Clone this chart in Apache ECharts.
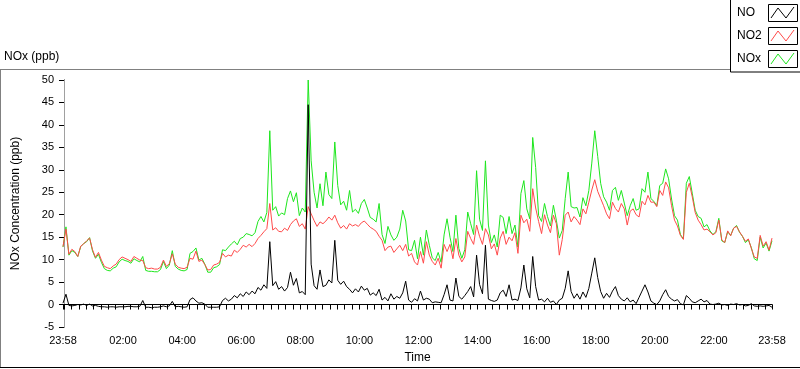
<!DOCTYPE html>
<html><head><meta charset="utf-8">
<script src="https://cdn.jsdelivr.net/npm/echarts@6/dist/echarts.min.js"></script>
<style>html,body{margin:0;padding:0;background:#fff}#c{width:800px;height:369px}</style>
</head><body><div id="c"></div>
<script>
// time of first sample (minutes from midnight) and sampling step
const startMin = -2;
const stepMin = 6;

const seriesNames = ['NO', 'NO2', 'NOx'];

const no = [
 0.3, 2.3, -0.2, -0.3, -0.2, 0.0, -0.1, 0.1, -0.2, 0.1,
 -0.3, -0.2, -0.4, -0.5, -0.5, -0.6, -0.5, -0.5, -0.6, -0.5,
 -0.5, -0.5, -0.4, -0.4, -0.5, -0.5, -0.4, 0.9, -0.6, -0.6,
 -0.7, -0.6, -0.6, -0.5, -0.3, -0.5, -0.3, 0.7, -0.5, -0.4,
 -0.5, -0.6, -0.5, 1.1, 1.5, 0.8, 0.3, 0.4, 0.1, -0.6,
 -0.6, -0.6, -0.6, -0.5, 0.9, 1.4, 0.8, 1.2, 2.0, 1.5,
 2.4, 1.8, 2.8, 2.2, 3.0, 2.4, 3.8, 3.2, 4.4, 3.6,
 14.0, 4.2, 5.1, 3.4, 4.0, 3.0, 3.8, 7.2, 4.3, 5.8,
 2.6, 2.9, 2.2, 44.5, 9.0, 4.2, 3.4, 7.7, 4.0, 4.3,
 5.5, 4.8, 14.3, 5.4, 4.5, 5.2, 4.0, 3.4, 2.6, 3.5,
 2.8, 4.1, 3.2, 3.6, 2.1, 2.6, 2.0, 3.4, 1.0, 1.6,
 0.8, 2.4, 1.2, 1.8, 1.4, 2.6, 5.2, 1.0, 0.5, 1.3,
 0.8, 3.0, 1.0, 1.4, 1.2, 0.4, 0.6, 0.5, 0.4, 2.2,
 4.4, 1.0, 0.8, 5.9, 1.8, 1.2, 2.0, 2.9, 4.0, 1.7,
 11.0, 4.5, 2.4, 13.2, 1.2, 0.9, 0.7, 1.0, 2.6, 3.2,
 1.8, 4.4, 1.0, 1.2, 0.9, 3.7, 8.8, 3.5, 1.5, 10.7,
 4.0, 1.0, 1.2, 0.6, 1.4, 0.5, 0.8, 0.0, 1.0, 1.4,
 3.6, 7.5, 2.9, 1.4, 2.4, 1.2, 2.8, 1.6, 3.6, 7.0,
 10.4, 6.0, 2.9, 1.4, 2.5, 1.6, 3.0, 4.0, 2.0, 1.2,
 0.8, 1.5, 0.6, 1.0, 0.2, 1.6, 3.0, 4.4, 2.8, 0.8,
 0.3, 0.0, 0.8, 2.2, 3.3, 1.8, 1.2, 0.8, 1.1, 0.2,
 -0.1, 2.0, 1.4, 0.6, 0.4, 0.8, 1.2, 0.6, 0.9, 0.1,
 0.0, 0.1, 0.3, -0.1, 0.0, -0.2, 0.1, 0.0, 0.2, -0.1,
 0.0, -0.3, -0.2, 0.2, -0.3, -0.4, -0.3, -0.4, -0.3, -0.2,
 -0.6
];

const no2 = [
 12.9, 16.8, 11.2, 12.3, 11.8, 10.7, 13.0, 13.5, 14.2, 14.8,
 12.2, 10.5, 11.6, 9.9, 8.5, 8.2, 8.0, 8.6, 9.0, 10.0,
 10.6, 10.3, 10.0, 9.6, 10.7, 10.3, 9.9, 9.8, 8.2, 8.0,
 8.1, 7.9, 7.9, 8.3, 9.9, 8.5, 9.1, 11.3, 9.0, 8.3,
 8.1, 8.0, 8.3, 10.3, 10.1, 11.9, 9.6, 9.9, 8.9, 7.7,
 7.8, 8.8, 9.0, 9.4, 11.4, 10.6, 11.0, 10.8, 12.1, 11.6,
 12.3, 13.2, 12.8, 13.4, 12.9, 13.6, 14.7, 15.4, 16.2, 16.9,
 22.5, 16.6, 17.1, 16.3, 16.2, 17.0, 16.5, 17.8, 18.6, 19.1,
 17.4, 18.0, 16.8, 21.8, 20.2, 18.7, 17.4, 18.4, 18.0, 18.6,
 19.5, 18.8, 19.9, 18.2, 17.0, 17.6, 16.8, 18.0, 17.5, 17.8,
 17.4, 18.2, 18.6, 17.9, 17.2, 16.8, 16.3, 15.2, 14.3, 12.0,
 12.8, 13.0, 11.6, 12.4, 13.2, 12.0, 13.4, 10.8, 11.4, 9.5,
 8.8, 11.8, 9.2, 14.0, 11.0, 9.6, 8.8, 10.3, 8.1, 13.4,
 11.8, 13.4, 10.2, 14.7, 11.0, 9.5, 10.6, 16.3, 14.7, 13.4,
 17.7, 15.2, 13.4, 16.9, 15.5, 12.4, 13.5, 11.0, 14.8, 16.3,
 13.4, 15.0, 14.2, 16.0, 11.4, 19.9, 18.2, 19.0, 16.3, 25.8,
 21.5, 18.5, 15.8, 20.0, 17.7, 16.0, 19.9, 18.0, 11.0, 14.5,
 19.9, 20.6, 18.4, 19.6, 18.8, 17.8, 21.3, 20.2, 22.8, 25.5,
 27.8, 25.2, 23.6, 22.0, 20.2, 19.1, 22.8, 21.4, 20.6, 22.5,
 21.3, 17.7, 20.8, 21.3, 20.0, 19.5, 23.0, 22.2, 24.3, 22.8,
 22.8, 21.8, 25.4, 24.3, 27.3, 26.0, 22.0, 18.8, 17.5, 15.4,
 14.5, 25.0, 27.0, 24.0, 20.5, 18.8, 17.8, 16.6, 16.8, 16.2,
 15.5, 16.0, 18.8, 14.4, 13.8, 16.4, 15.3, 17.0, 17.4, 16.2,
 15.2, 14.1, 14.6, 12.5, 10.6, 10.3, 15.4, 13.0, 14.0, 12.1,
 14.8
];

const nox = [
 12.8, 17.3, 11.0, 12.0, 11.6, 10.7, 12.9, 13.6, 14.0, 14.9,
 11.9, 10.3, 11.2, 9.4, 8.0, 7.6, 7.5, 8.1, 8.4, 9.5,
 10.1, 9.8, 9.6, 9.2, 10.2, 9.8, 9.5, 10.7, 7.6, 7.4,
 7.4, 7.3, 7.3, 7.8, 9.6, 8.0, 8.8, 12.0, 8.5, 7.9,
 7.6, 7.5, 7.8, 11.4, 11.8, 12.6, 9.9, 10.3, 9.0, 7.2,
 7.2, 8.2, 8.4, 8.9, 12.2, 12.0, 12.8, 13.5, 14.1, 13.3,
 14.7, 15.0, 15.8, 15.6, 15.3, 16.0, 18.5, 19.6, 18.4, 20.5,
 38.7, 21.0, 21.8, 19.7, 20.4, 20.0, 23.6, 25.3, 22.9, 24.9,
 19.8, 21.5, 20.6, 50.0, 32.0, 25.0, 21.5, 26.9, 22.0, 29.5,
 24.5, 23.6, 36.2, 26.5, 22.2, 23.0, 21.0, 25.4, 20.6, 21.2,
 20.3, 22.5, 23.4, 21.5, 19.4, 19.0, 18.4, 22.5, 15.6, 13.6,
 17.4, 15.5, 14.3, 15.0, 16.8, 21.0, 18.6, 12.2, 12.0, 14.3,
 10.2, 15.0, 11.0, 16.6, 13.2, 10.4, 9.8, 11.6, 9.4, 15.5,
 19.1, 15.0, 11.8, 19.9, 12.5, 10.3, 12.2, 20.6, 18.0, 15.6,
 29.8, 19.0, 16.5, 32.0, 17.7, 13.8, 15.5, 12.8, 19.9, 19.4,
 15.8, 19.6, 15.8, 17.7, 12.8, 24.7, 27.6, 21.3, 19.1, 37.2,
 30.5, 19.8, 18.5, 22.5, 19.6, 17.5, 22.1, 18.8, 14.8, 16.5,
 23.6, 29.5, 21.8, 21.5, 21.6, 19.5, 23.8, 22.0, 25.4, 31.5,
 38.7, 33.0, 27.0, 24.0, 22.8, 21.0, 25.4, 26.1, 23.2, 25.4,
 22.6, 19.8, 22.0, 23.6, 21.0, 21.3, 25.8, 25.0, 29.5, 23.6,
 23.0, 22.0, 26.5, 27.0, 30.2, 28.0, 23.5, 19.8, 18.8, 15.6,
 14.6, 27.0, 28.5, 24.8, 21.0, 19.6, 19.2, 17.3, 17.8, 16.4,
 15.6, 16.2, 19.2, 14.2, 13.8, 16.2, 15.4, 17.0, 17.6, 16.1,
 15.2, 13.8, 14.4, 12.7, 10.2, 9.8, 15.0, 12.6, 13.7, 11.9,
 14.2
];

// x tick label positions (minutes from midnight) and y tick values
const xLabelMinutes = [-2, 120, 240, 360, 480, 600, 720, 840, 960, 1080, 1200, 1320, 1438];
const yMin = -5, yMax = 50, yStep = 5;

const FONT = 'Liberation Sans';
function fmtTime(m) {
  const t = ((Math.round(m) % 1440) + 1440) % 1440;
  const h = Math.floor(t / 60), mm = t % 60;
  return String(h).padStart(2, '0') + ':' + String(mm).padStart(2, '0');
}
const tickMinutes = [-2];
for (let m = 0; m < 1438; m += 15) tickMinutes.push(m);
tickMinutes.push(1438);

const toPairs = arr => arr.map((v, i) => [startMin + stepMin * i, v]);
const xMin = xLabelMinutes[0], xMax = xLabelMinutes[xLabelMinutes.length - 1];

const chart = echarts.init(document.getElementById('c'), null, {renderer: 'canvas'});

function legendEntry(idx, color) {
  const y0 = 4 + idx * 23;
  return [
    {type: 'text', left: 737, top: y0 + 3, style: {text: seriesNames[idx], font: '12px "' + FONT + '"', fill: '#000'}},
    {type: 'rect', shape: {x: 768.5, y: y0 + 0.5, width: 29, height: 17}, style: {fill: '#fff', stroke: '#000', lineWidth: 1}},
    {type: 'polyline', shape: {points: [[771, y0 + 14], [778, y0 + 4], [786, y0 + 14], [794, y0 + 3]]}, style: {stroke: color, lineWidth: 1, fill: null}}
  ];
}

const COLORS = {NO: '#000000', NO2: '#ff4a4a', NOx: '#1ee61e'};

chart.setOption({
  animation: false,
  backgroundColor: '#ffffff',
  grid: {left: 63, right: 28, top: 80, bottom: 39, containLabel: false},
  xAxis: [{
    type: 'value', min: xMin, max: xMax,
    name: 'Time', nameLocation: 'middle', nameGap: 25,
    nameTextStyle: {fontFamily: FONT, fontSize: 12, color: '#000'},
    axisLine: {show: true, lineStyle: {color: '#a0a0a0', width: 1}},
    axisTick: {show: true, length: 5, lineStyle: {color: '#000'}, customValues: tickMinutes},
    axisLabel: {customValues: xLabelMinutes, formatter: v => fmtTime(v), fontFamily: FONT, fontSize: 11, color: '#000', margin: 8},
    splitLine: {show: false}
  }, {
    type: 'value', min: xMin, max: xMax, position: 'top',
    axisLine: {show: true, lineStyle: {color: '#000', width: 1}},
    axisTick: {show: false}, axisLabel: {show: false}, splitLine: {show: false}
  }],
  yAxis: [{
    type: 'value', min: yMin, max: yMax, interval: yStep,
    name: 'NOx Concentration (ppb)', nameLocation: 'middle', nameGap: 41, nameRotate: 90,
    nameTextStyle: {fontFamily: FONT, fontSize: 12, color: '#000'},
    axisLine: {show: true, lineStyle: {color: '#000', width: 1}},
    axisTick: {show: true, length: 5, lineStyle: {color: '#000'}},
    axisLabel: {fontFamily: FONT, fontSize: 11, color: '#000', margin: 9},
    splitLine: {show: false}
  }, {
    type: 'value', min: yMin, max: yMax, interval: yStep, position: 'right',
    axisLine: {show: true, lineStyle: {color: '#a0a0a0', width: 1}},
    axisTick: {show: false}, axisLabel: {show: false}, splitLine: {show: false}
  }],
  series: [
    {name: 'NOx', type: 'line', data: toPairs(nox), showSymbol: false, symbol: 'none',
     lineStyle: {color: COLORS.NOx, width: 1}, itemStyle: {color: COLORS.NOx}, z: 2},
    {name: 'NO2', type: 'line', data: toPairs(no2), showSymbol: false, symbol: 'none',
     lineStyle: {color: COLORS.NO2, width: 1}, itemStyle: {color: COLORS.NO2}, z: 3},
    {name: 'NO', type: 'line', data: toPairs(no), showSymbol: false, symbol: 'none',
     lineStyle: {color: COLORS.NO, width: 1}, itemStyle: {color: COLORS.NO}, z: 4}
  ],
  graphic: [
    {type: 'text', left: 4, top: 51, style: {text: 'NOx (ppb)', font: '12px "' + FONT + '"', fill: '#000'}},
    {type: 'line', shape: {x1: 0, y1: 69.5, x2: 730, y2: 69.5}, style: {stroke: '#808080', lineWidth: 1}},
    {type: 'line', shape: {x1: 0.5, y1: 69.5, x2: 0.5, y2: 368}, style: {stroke: '#808080', lineWidth: 1}},
    {type: 'line', shape: {x1: 0, y1: 367.5, x2: 800, y2: 367.5}, style: {stroke: '#000', lineWidth: 1}},
    {type: 'rect', shape: {x: 730.5, y: -1, width: 72, height: 73}, style: {fill: '#fff', stroke: '#000', lineWidth: 1}},
    ...legendEntry(0, COLORS.NO),
    ...legendEntry(1, COLORS.NO2),
    ...legendEntry(2, COLORS.NOx)
  ]
});
</script>
</body></html>
